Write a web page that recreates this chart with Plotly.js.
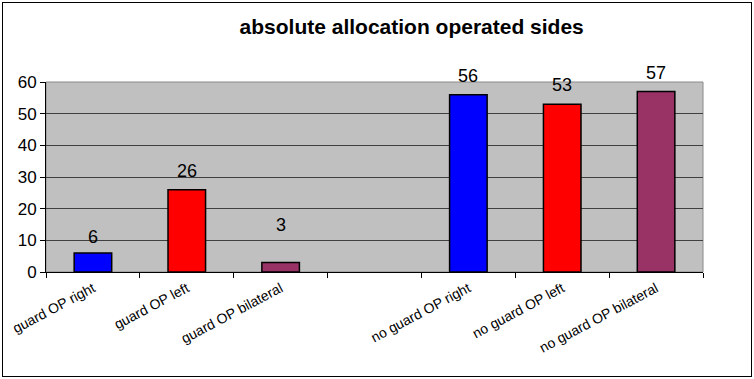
<!DOCTYPE html>
<html>
<head>
<meta charset="utf-8">
<script src="https://cdn.plot.ly/plotly-3.0.1.min.js"></script>
<style>
html,body{margin:0;padding:0;background:#fff;}
#wrap{position:relative;width:754px;height:379px;}
#chart{position:absolute;left:0;top:0;width:754px;height:379px;}
#frame{position:absolute;left:2px;top:2px;width:748px;height:373px;border:1px solid #000;pointer-events:none;}
</style>
</head>
<body>
<div id="wrap"><div id="chart"></div><div id="frame"></div></div>
<script>
const categories = ["guard OP right", "guard OP left", "guard OP bilateral", " ", "no guard OP right", "no guard OP left", "no guard OP bilateral"];
const values = [6, 26, 3, null, 56, 53, 57];
const barColors = ["#0000FF", "#FF0000", "#993366", "#FFFFFF", "#0000FF", "#FF0000", "#993366"];
const yTicks = [0, 10, 20, 30, 40, 50, 60];

// label pixel offsets (style only)
const labelOffsets = [4, 7, 26, 0, 7, 7, 7];

const trace = {
  type: "bar",
  x: categories,
  y: values,
  width: 0.4,
  marker: {color: barColors, line: {color: "#000", width: 1.5}},
  hoverinfo: "none"
};

const annotations = categories.map((c, i) => values[i] == null ? null : ({
  x: c, y: values[i], xref: "x", yref: "y",
  text: String(values[i]), showarrow: false,
  yanchor: "bottom", yshift: labelOffsets[i],
  font: {family: "Liberation Sans, Arial, sans-serif", size: 18, color: "#000"}
})).filter(a => a);

const layout = {
  width: 754, height: 379,
  margin: {l: 46, r: 51, t: 82, b: 107},
  paper_bgcolor: "#fff",
  plot_bgcolor: "#C0C0C0",
  showlegend: false,
  font: {family: "Liberation Sans, Arial, sans-serif", color: "#000"},
  title: {
    text: "<b>absolute allocation operated sides</b>",
    font: {size: 21, family: "Liberation Sans, Arial, sans-serif", color: "#000"},
    x: 0.546, xref: "container", xanchor: "center",
    y: 0.93, yref: "container", yanchor: "middle"
  },
  xaxis: {
    type: "category",
    tickangle: -28,
    tickson: "boundaries",
    ticks: "outside", ticklen: 5, tickcolor: "#000",
    ticklabelstandoff: 2,
    showgrid: false,
    showline: true, linecolor: "#000", linewidth: 1,
    tickfont: {size: 14},
    fixedrange: true
  },
  yaxis: {
    range: [0, 60],
    tickvals: yTicks,
    ticks: "outside", ticklen: 5, tickcolor: "#000",
    showgrid: true, gridcolor: "#404040", gridwidth: 1,
    showline: true, linecolor: "#000", linewidth: 1,
    zeroline: false,
    tickfont: {size: 17},
    fixedrange: true
  },
  shapes: [{
    type: "rect", xref: "paper", yref: "paper", x0: 0, x1: 1, y0: 0, y1: 1,
    line: {color: "#8a8a8a", width: 1}, layer: "below"
  }],
  annotations: annotations
};

Plotly.newPlot("chart", [trace], layout, {displayModeBar: false, staticPlot: true});
</script>
</body>
</html>
